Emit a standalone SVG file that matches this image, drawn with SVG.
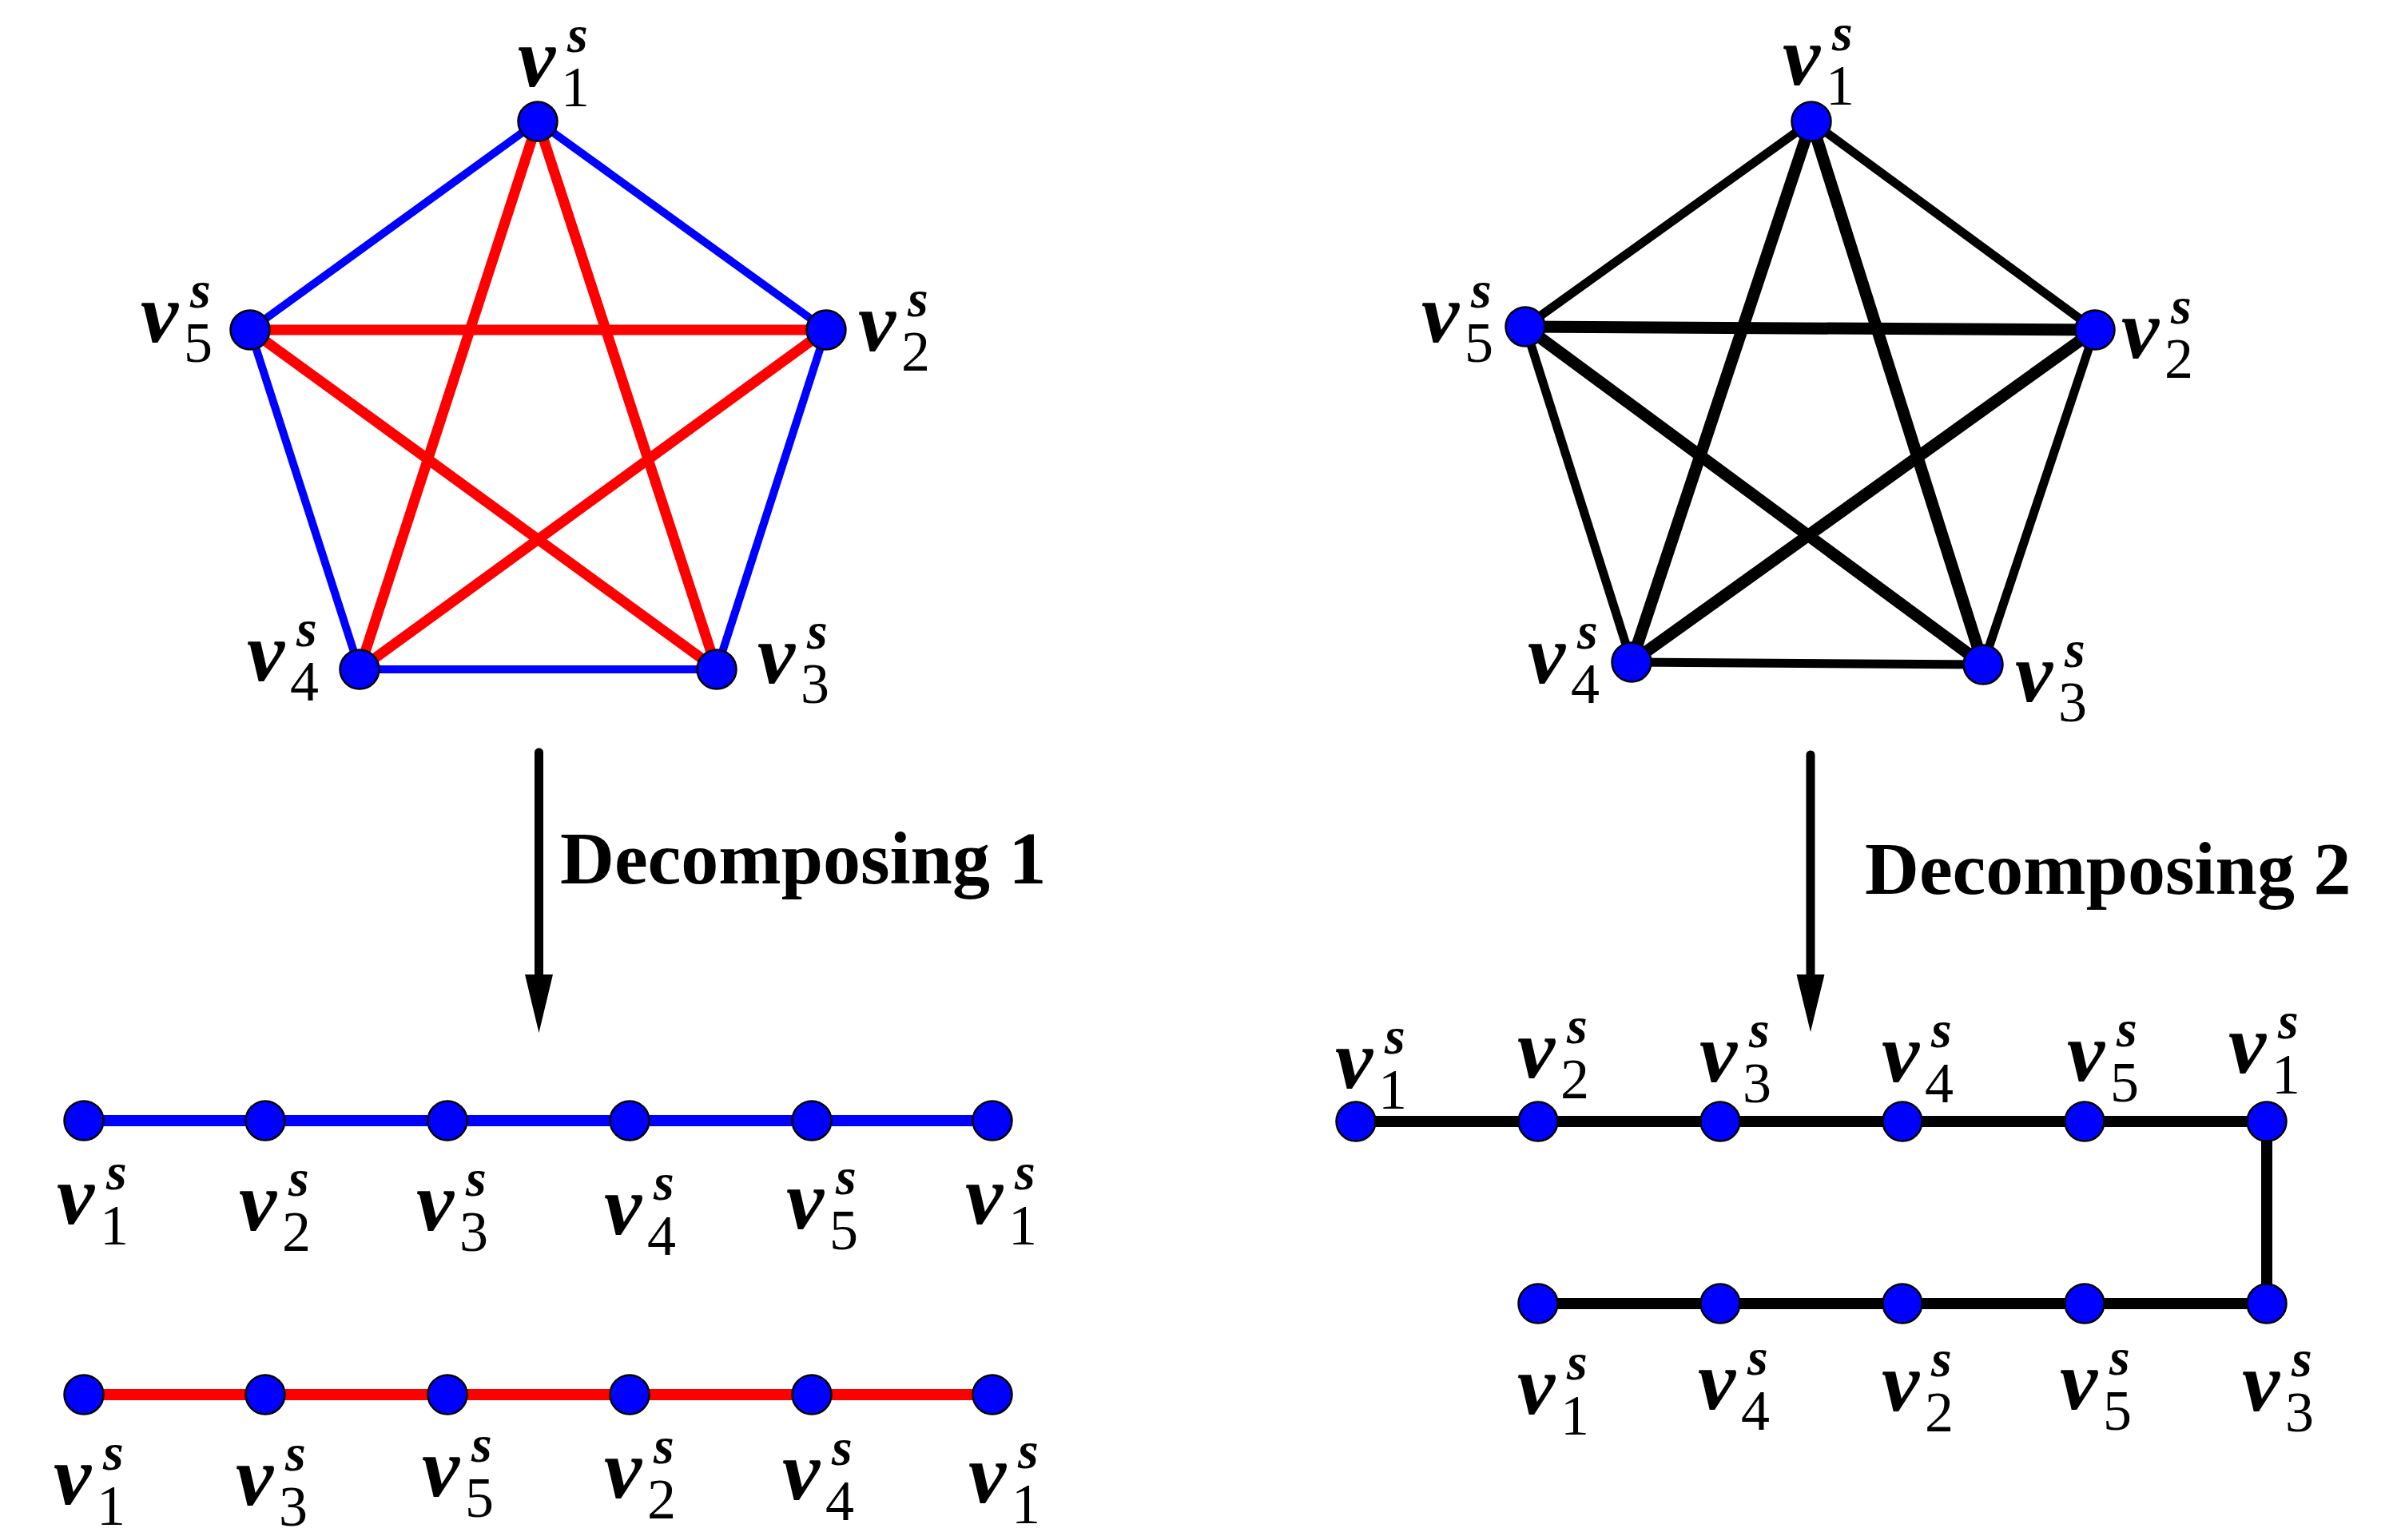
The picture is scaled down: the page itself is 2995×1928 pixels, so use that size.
<svg xmlns="http://www.w3.org/2000/svg" width="2995" height="1928" viewBox="0 0 2995 1928">
<style>
.n{fill:#0000ff;stroke:#000;stroke-width:2.5}
.eb{stroke:#0000ff;stroke-width:10;fill:none}
.er{stroke:#ff0000;stroke-width:13;fill:none}
.ek{stroke:#000;stroke-width:11;fill:none}
.ekt{stroke:#000;stroke-width:15;fill:none}
.pb{stroke:#0000ff;stroke-width:14;fill:none}
.pr{stroke:#ff0000;stroke-width:14;fill:none}
.pk{stroke:#000;stroke-width:14;fill:none}
.lbl{font-family:"Liberation Serif",serif;font-size:106px;font-style:italic;font-weight:bold;fill:#000}
.ss{font-size:66px}
.d{font-style:normal;font-weight:normal;font-size:72px}
.t{font-family:"Liberation Serif",serif;font-weight:bold;font-size:94px;fill:#000}
.ar{stroke:#000;stroke-width:11;stroke-linecap:round;fill:none}
</style>
<rect width="2995" height="1928" fill="#fff"/>
<g id="connectors">
<line class="eb" x1="673" y1="152" x2="1034" y2="413"/>
<line class="eb" x1="1034" y1="413" x2="897" y2="838"/>
<line class="eb" x1="897" y1="838" x2="450" y2="838"/>
<line class="eb" x1="450" y1="838" x2="313" y2="413"/>
<line class="eb" x1="313" y1="413" x2="673" y2="152"/>
<line class="er" x1="673" y1="152" x2="897" y2="838"/>
<line class="er" x1="673" y1="152" x2="450" y2="838"/>
<line class="er" x1="313" y1="413" x2="1034" y2="413"/>
<line class="er" x1="313" y1="413" x2="897" y2="838"/>
<line class="er" x1="1034" y1="413" x2="450" y2="838"/>
<line class="ek" x1="2267" y1="152" x2="2622" y2="413"/>
<line class="ek" x1="2622" y1="413" x2="2482" y2="832"/>
<line class="ek" x1="2482" y1="832" x2="2042" y2="829"/>
<line class="ek" x1="2042" y1="829" x2="1909" y2="409"/>
<line class="ek" x1="1909" y1="409" x2="2267" y2="152"/>
<line class="ekt" x1="2267" y1="152" x2="2482" y2="832"/>
<line class="ekt" x1="2267" y1="152" x2="2042" y2="829"/>
<line class="ekt" x1="1909" y1="409" x2="2622" y2="413"/>
<line class="ekt" x1="1909" y1="409" x2="2482" y2="832"/>
<line class="ekt" x1="2622" y1="413" x2="2042" y2="829"/>
<line class="ar" x1="674.5" y1="942" x2="674.5" y2="1225"/>
<polygon points="657,1220 692,1220 674.5,1293" fill="#000"/>
<line class="ar" x1="2266" y1="945" x2="2266" y2="1225"/>
<polygon points="2248.5,1220 2283.5,1220 2266,1292" fill="#000"/>
<line class="pb" x1="105" y1="1403" x2="1242" y2="1403"/>
<line class="pr" x1="105" y1="1746" x2="1242" y2="1746"/>
<polyline class="pk" points="1697,1404 2837,1404 2837,1632 1925,1632"/>
</g>
<g id="titles">
<text class="t" x="701" y="1106">Decomposing 1</text>
<text class="t" x="2334" y="1119">Decomposing 2</text>
</g>
<g id="L-v1"><circle class="n" cx="673" cy="152" r="24.5"/><text class="lbl"><tspan x="648" y="108">v</tspan><tspan class="ss" x="710" y="65">s</tspan><tspan class="d" x="702" y="133">1</tspan></text></g>
<g id="L-v2"><circle class="n" cx="1034" cy="413" r="24.5"/><text class="lbl"><tspan x="1074" y="439">v</tspan><tspan class="ss" x="1136" y="396">s</tspan><tspan class="d" x="1128" y="464">2</tspan></text></g>
<g id="L-v3"><circle class="n" cx="897" cy="838" r="24.5"/><text class="lbl"><tspan x="948" y="855">v</tspan><tspan class="ss" x="1010" y="812">s</tspan><tspan class="d" x="1002" y="880">3</tspan></text></g>
<g id="L-v4"><circle class="n" cx="450" cy="838" r="24.5"/><text class="lbl"><tspan x="309" y="852">v</tspan><tspan class="ss" x="371" y="809">s</tspan><tspan class="d" x="363" y="877">4</tspan></text></g>
<g id="L-v5"><circle class="n" cx="313" cy="413" r="24.5"/><text class="lbl"><tspan x="176" y="428">v</tspan><tspan class="ss" x="238" y="385">s</tspan><tspan class="d" x="230" y="453">5</tspan></text></g>
<g id="R-v1"><circle class="n" cx="2267" cy="152" r="24.5"/><text class="lbl"><tspan x="2231" y="106">v</tspan><tspan class="ss" x="2293" y="63">s</tspan><tspan class="d" x="2285" y="131">1</tspan></text></g>
<g id="R-v2"><circle class="n" cx="2622" cy="413" r="24.5"/><text class="lbl"><tspan x="2655" y="448">v</tspan><tspan class="ss" x="2717" y="405">s</tspan><tspan class="d" x="2709" y="473">2</tspan></text></g>
<g id="R-v3"><circle class="n" cx="2482" cy="832" r="24.5"/><text class="lbl"><tspan x="2522" y="878">v</tspan><tspan class="ss" x="2584" y="835">s</tspan><tspan class="d" x="2576" y="903">3</tspan></text></g>
<g id="R-v4"><circle class="n" cx="2042" cy="829" r="24.5"/><text class="lbl"><tspan x="1912" y="855">v</tspan><tspan class="ss" x="1974" y="812">s</tspan><tspan class="d" x="1966" y="880">4</tspan></text></g>
<g id="R-v5"><circle class="n" cx="1909" cy="409" r="24.5"/><text class="lbl"><tspan x="1779" y="428">v</tspan><tspan class="ss" x="1841" y="385">s</tspan><tspan class="d" x="1833" y="453">5</tspan></text></g>
<g id="B-1"><circle class="n" cx="105" cy="1403" r="24.5"/><text class="lbl"><tspan x="71" y="1532">v</tspan><tspan class="ss" x="133" y="1489">s</tspan><tspan class="d" x="125" y="1558">1</tspan></text></g>
<g id="B-2"><circle class="n" cx="332" cy="1403" r="24.5"/><text class="lbl"><tspan x="299" y="1540">v</tspan><tspan class="ss" x="361" y="1497">s</tspan><tspan class="d" x="353" y="1566">2</tspan></text></g>
<g id="B-3"><circle class="n" cx="560" cy="1403" r="24.5"/><text class="lbl"><tspan x="521" y="1540">v</tspan><tspan class="ss" x="583" y="1497">s</tspan><tspan class="d" x="575" y="1566">3</tspan></text></g>
<g id="B-4"><circle class="n" cx="788" cy="1403" r="24.5"/><text class="lbl"><tspan x="756" y="1545">v</tspan><tspan class="ss" x="818" y="1502">s</tspan><tspan class="d" x="810" y="1571">4</tspan></text></g>
<g id="B-5"><circle class="n" cx="1016" cy="1403" r="24.5"/><text class="lbl"><tspan x="984" y="1538">v</tspan><tspan class="ss" x="1046" y="1495">s</tspan><tspan class="d" x="1038" y="1564">5</tspan></text></g>
<g id="B-6"><circle class="n" cx="1242" cy="1403" r="24.5"/><text class="lbl"><tspan x="1208" y="1532">v</tspan><tspan class="ss" x="1270" y="1489">s</tspan><tspan class="d" x="1262" y="1558">1</tspan></text></g>
<g id="Rd-1"><circle class="n" cx="105" cy="1746" r="24.5"/><text class="lbl"><tspan x="67" y="1883">v</tspan><tspan class="ss" x="129" y="1840">s</tspan><tspan class="d" x="121" y="1909">1</tspan></text></g>
<g id="Rd-2"><circle class="n" cx="332" cy="1746" r="24.5"/><text class="lbl"><tspan x="295" y="1884">v</tspan><tspan class="ss" x="357" y="1841">s</tspan><tspan class="d" x="349" y="1910">3</tspan></text></g>
<g id="Rd-3"><circle class="n" cx="560" cy="1746" r="24.5"/><text class="lbl"><tspan x="528" y="1873">v</tspan><tspan class="ss" x="590" y="1830">s</tspan><tspan class="d" x="582" y="1899">5</tspan></text></g>
<g id="Rd-4"><circle class="n" cx="788" cy="1746" r="24.5"/><text class="lbl"><tspan x="756" y="1875">v</tspan><tspan class="ss" x="818" y="1832">s</tspan><tspan class="d" x="810" y="1901">2</tspan></text></g>
<g id="Rd-5"><circle class="n" cx="1016" cy="1746" r="24.5"/><text class="lbl"><tspan x="979" y="1877">v</tspan><tspan class="ss" x="1041" y="1834">s</tspan><tspan class="d" x="1033" y="1903">4</tspan></text></g>
<g id="Rd-6"><circle class="n" cx="1242" cy="1746" r="24.5"/><text class="lbl"><tspan x="1212" y="1881">v</tspan><tspan class="ss" x="1274" y="1838">s</tspan><tspan class="d" x="1266" y="1907">1</tspan></text></g>
<g id="K-1"><circle class="n" cx="1697" cy="1404" r="24.5"/><text class="lbl"><tspan x="1671" y="1362">v</tspan><tspan class="ss" x="1733" y="1319">s</tspan><tspan class="d" x="1725" y="1388">1</tspan></text></g>
<g id="K-2"><circle class="n" cx="1925" cy="1404" r="24.5"/><text class="lbl"><tspan x="1899" y="1349">v</tspan><tspan class="ss" x="1961" y="1306">s</tspan><tspan class="d" x="1953" y="1375">2</tspan></text></g>
<g id="K-3"><circle class="n" cx="2153" cy="1404" r="24.5"/><text class="lbl"><tspan x="2127" y="1354">v</tspan><tspan class="ss" x="2189" y="1311">s</tspan><tspan class="d" x="2181" y="1380">3</tspan></text></g>
<g id="K-4"><circle class="n" cx="2381" cy="1404" r="24.5"/><text class="lbl"><tspan x="2355" y="1354">v</tspan><tspan class="ss" x="2417" y="1311">s</tspan><tspan class="d" x="2409" y="1380">4</tspan></text></g>
<g id="K-5"><circle class="n" cx="2609" cy="1404" r="24.5"/><text class="lbl"><tspan x="2587" y="1353">v</tspan><tspan class="ss" x="2649" y="1310">s</tspan><tspan class="d" x="2641" y="1379">5</tspan></text></g>
<g id="K-6"><circle class="n" cx="2837" cy="1404" r="24.5"/><text class="lbl"><tspan x="2789" y="1343">v</tspan><tspan class="ss" x="2851" y="1300">s</tspan><tspan class="d" x="2843" y="1369">1</tspan></text></g>
<g id="K-7"><circle class="n" cx="2837" cy="1632" r="24.5"/><text class="lbl"><tspan x="2806" y="1766">v</tspan><tspan class="ss" x="2868" y="1723">s</tspan><tspan class="d" x="2860" y="1792">3</tspan></text></g>
<g id="K-8"><circle class="n" cx="2609" cy="1632" r="24.5"/><text class="lbl"><tspan x="2578" y="1764">v</tspan><tspan class="ss" x="2640" y="1721">s</tspan><tspan class="d" x="2632" y="1790">5</tspan></text></g>
<g id="K-9"><circle class="n" cx="2381" cy="1632" r="24.5"/><text class="lbl"><tspan x="2355" y="1766">v</tspan><tspan class="ss" x="2417" y="1723">s</tspan><tspan class="d" x="2409" y="1792">2</tspan></text></g>
<g id="K-10"><circle class="n" cx="2153" cy="1632" r="24.5"/><text class="lbl"><tspan x="2125" y="1764">v</tspan><tspan class="ss" x="2187" y="1721">s</tspan><tspan class="d" x="2179" y="1790">4</tspan></text></g>
<g id="K-11"><circle class="n" cx="1925" cy="1632" r="24.5"/><text class="lbl"><tspan x="1899" y="1770">v</tspan><tspan class="ss" x="1961" y="1727">s</tspan><tspan class="d" x="1953" y="1796">1</tspan></text></g>
</svg>
